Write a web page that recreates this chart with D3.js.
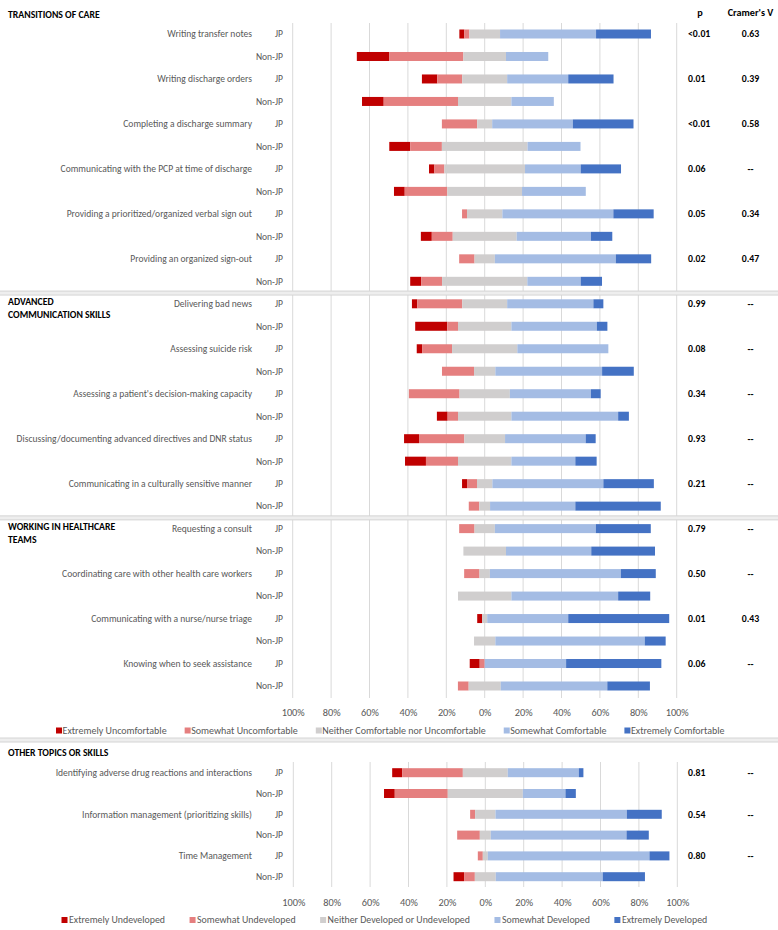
<!DOCTYPE html>
<html><head><meta charset="utf-8">
<script src="https://cdn.jsdelivr.net/npm/d3@7"></script>
<style>
body{margin:0;background:#fff}
svg{display:block}
text{font-family:Carlito, Lato, "Open Sans", sans-serif}
</style>
</head><body>
<svg id="c" width="778" height="930"></svg>
<script>
// ---------------- DATA ----------------
const groups = ["JP", "Non-JP"];

const sectionTitlesUpper = [["TRANSITIONS OF CARE"], ["ADVANCED", "COMMUNICATION SKILLS"], ["WORKING IN HEALTHCARE", "TEAMS"]];
const sectionSkillCounts = [6, 5, 4];

const skillsUpper = [
  "Writing transfer notes", "Writing discharge orders", "Completing a discharge summary",
  "Communicating with the PCP at time of discharge", "Providing a prioritized/organized verbal sign out",
  "Providing an organized sign-out",
  "Delivering bad news", "Assessing suicide risk", "Assessing a patient's decision-making capacity",
  "Discussing/documenting advanced directives and DNR status", "Communicating in a culturally sensitive manner",
  "Requesting a consult", "Coordinating care with other health care workers",
  "Communicating with a nurse/nurse triage", "Knowing when to seek assistance"
];
const pUpper = ["<0.01", "0.01", "<0.01", "0.06", "0.05", "0.02", "0.99", "0.08", "0.34", "0.93", "0.21", "0.79", "0.50", "0.01", "0.06"];
const vUpper = ["0.63", "0.39", "0.58", "--", "0.34", "0.47", "--", "--", "--", "--", "--", "--", "--", "0.43", "--"];

const levelsUpper = ["Extremely Uncomfortable", "Somewhat Uncomfortable", "Neither Comfortable nor Uncomfortable", "Somewhat Comfortable", "Extremely Comfortable"];
// rows alternate JP, Non-JP for each skill (percent)
const extremelyUncomfortable = [2.6, 16.8, 8.0, 11.3, 0, 10.9, 2.8, 5.6, 0, 5.7, 0, 5.7, 2.8, 16.7, 2.8, 0, 0, 5.6, 7.8, 10.9, 2.6, 0, 0, 0, 0, 0, 2.6, 0, 5.2, 0];
const somewhatUncomfortable = [2.6, 38.7, 13.0, 38.7, 18.4, 16.5, 5.2, 22.2, 2.6, 10.9, 8.0, 10.9, 23.4, 5.6, 15.6, 16.7, 26.4, 5.4, 23.6, 16.7, 5.2, 5.5, 8.0, 0, 8.0, 0, 0, 0, 2.6, 5.6];
const neitherComfortable = [16.0, 22.2, 23.4, 27.8, 7.8, 44.6, 42.0, 38.9, 18.4, 33.3, 10.6, 44.4, 23.4, 27.8, 34.0, 11.1, 26.2, 27.8, 21.2, 27.8, 8.0, 5.6, 10.6, 22.2, 5.4, 27.8, 2.6, 11.1, 0, 16.7];
const somewhatComfortable = [50.0, 22.0, 31.8, 22.1, 42.0, 27.6, 29.0, 33.2, 57.8, 38.7, 63.0, 27.8, 44.9, 44.5, 47.4, 55.6, 42.2, 55.6, 42.0, 33.3, 57.8, 44.4, 52.6, 44.4, 68.2, 55.6, 42.2, 77.8, 42.4, 55.5];
const extremelyComfortable = [28.6, 0, 23.6, 0, 31.6, 0, 21.0, 0, 21.0, 11.1, 18.4, 11.1, 5.2, 5.5, 0, 16.5, 5.1, 5.6, 5.2, 11.1, 26.3, 44.5, 28.6, 33.2, 18.2, 16.7, 52.6, 10.9, 49.6, 22.2];

const sectionTitlesLower = [["OTHER TOPICS OR SKILLS"]];
const sectionSkillCountsLower = [3];
const skillsLower = ["Identifying adverse drug reactions and interactions", "Information management (prioritizing skills)", "Time Management"];
const pLower = ["0.81", "0.54", "0.80"];
const vLower = ["--", "--", "--"];
const levelsLower = ["Extremely Undeveloped", "Somewhat Undeveloped", "Neither Developed or Undeveloped", "Somewhat Developed", "Extremely Developed"];
const extremelyUndeveloped = [5.2, 5.6, 0, 0, 0, 5.5];
const somewhatUndeveloped = [31.6, 27.6, 2.6, 11.8, 2.6, 5.6];
const neitherDeveloped = [23.4, 39.1, 10.6, 5.7, 2.6, 10.9];
const somewhatDeveloped = [37.0, 22.2, 68.4, 70.7, 84.2, 55.7];
const extremelyDeveloped = [2.4, 5.4, 18.2, 11.6, 10.4, 22.0];

const tickValues = [-100, -80, -60, -40, -20, 0, 20, 40, 60, 80, 100];

// ---------------- DRAWING ----------------
const svg = d3.select("#c");
const colors = ["#C00000", "#E57F7F", "#D0CECE", "#A4BCE4", "#4472C4"];
const labelGrey = "#595959";
const FS = 9.55;

// headers
svg.append("text").attr("x", 700).attr("y", 12).attr("dy", "0.35em").attr("text-anchor", "middle")
  .attr("font-size", 10.2).attr("font-weight", "bold").attr("fill", "#000").text("p");
svg.append("text").attr("x", 750.5).attr("y", 12).attr("dy", "0.35em").attr("text-anchor", "middle")
  .attr("font-size", 10.2).attr("font-weight", "bold").attr("fill", "#000").text("Cramer's V");

function separator(yMid) {
  svg.append("rect").attr("x", 0).attr("y", yMid - 2).attr("width", 778).attr("height", 4).attr("fill", "#eeeeee");
  svg.append("line").attr("x1", 0).attr("x2", 778).attr("y1", yMid - 2).attr("y2", yMid - 2).attr("stroke", "#d4d4d4").attr("stroke-width", 1);
  svg.append("line").attr("x1", 0).attr("x2", 778).attr("y1", yMid + 2).attr("y2", yMid + 2).attr("stroke", "#d4d4d4").attr("stroke-width", 1);
}

function drawPanel(cfg) {
  const n = cfg.series[0].length;
  const x = d3.scaleLinear().domain([-100, 100]).range(cfg.xRange);
  const y = d3.scalePoint().domain(d3.range(n)).range(cfg.yRange);
  const g = svg.append("g");

  // grid
  g.append("g").selectAll("line").data(tickValues).join("line")
    .attr("x1", d => x(d)).attr("x2", d => x(d))
    .attr("y1", cfg.gridTop).attr("y2", cfg.gridBottom)
    .attr("stroke", "#d9d9d9").attr("stroke-width", 1);

  // separators between sections and section titles
  let acc = 0;
  cfg.sectionCounts.forEach((c, si) => {
    const firstRow = acc * 2;
    if (si > 0) separator((y(firstRow - 1) + y(firstRow)) / 2 + 0.5);
    const lines = cfg.sectionTitles[si];
    const ty = y(firstRow) + (si === 0 ? cfg.firstTitleOffset : -2);
    lines.forEach((t, li) => {
      g.append("text").attr("x", 8).attr("y", ty + li * 12.5).attr("dy", "0.35em")
        .attr("font-size", 9.75).attr("font-weight", "bold").attr("fill", "#000").text(t);
    });
    acc += c;
  });

  // rows
  const rows = d3.range(n).map(i => {
    const vals = cfg.series.map(s => s[i]);
    let start = -(vals[0] + vals[1] + vals[2] / 2);
    const segs = vals.map((v, k) => { const s = { k, x0: start, x1: start + v }; start += v; return s; });
    return { i, skill: i % 2 === 0 ? cfg.skills[i / 2] : null, group: groups[i % 2], segs };
  });

  const rowG = g.append("g").selectAll("g").data(rows).join("g");
  rowG.selectAll("rect").data(d => d.segs.filter(s => s.x1 - s.x0 > 0).map(s => ({ ...s, i: d.i }))).join("rect")
    .attr("x", s => x(s.x0)).attr("width", s => x(s.x1) - x(s.x0))
    .attr("y", s => y(s.i) - 4.5).attr("height", 9)
    .attr("fill", s => colors[s.k]);

  // labels
  rowG.filter(d => d.skill).append("text")
    .attr("x", 252).attr("y", d => y(d.i)).attr("dy", "0.35em").attr("text-anchor", "end")
    .attr("font-size", FS).attr("fill", labelGrey).text(d => d.skill);
  rowG.append("text")
    .attr("x", 283).attr("y", d => y(d.i)).attr("dy", "0.35em").attr("text-anchor", "end")
    .attr("font-size", FS).attr("fill", labelGrey).text(d => d.group);
  rowG.filter(d => d.skill).append("text")
    .attr("x", 688).attr("y", d => y(d.i)).attr("dy", "0.35em")
    .attr("font-size", 9.75).attr("font-weight", "bold").attr("fill", "#000").text(d => cfg.p[d.i / 2]);
  rowG.filter(d => d.skill).append("text")
    .attr("x", 750.5).attr("y", d => y(d.i)).attr("dy", "0.35em").attr("text-anchor", "middle")
    .attr("font-size", 9.75).attr("font-weight", "bold").attr("fill", "#000").text(d => cfg.v[d.i / 2]);

  // axis
  const ax = g.append("g").attr("transform", `translate(0,${cfg.axisY})`)
    .call(d3.axisBottom(x).tickValues(tickValues).tickFormat(d => Math.abs(d) + "%").tickSize(0).tickPadding(0));
  ax.select(".domain").remove();
  ax.selectAll("text").attr("font-size", 10.3).attr("fill", labelGrey).attr("dy", "0.35em")
    .style("font-family", 'Carlito, Lato, "Open Sans", sans-serif');

  // legend
  let lx = cfg.legendX;
  cfg.levels.forEach((lab, k) => {
    svg.append("rect").attr("x", lx).attr("y", cfg.legendY - 3).attr("width", 6).attr("height", 6).attr("fill", colors[k]);
    const t = svg.append("text").attr("x", lx + cfg.legendTextOff).attr("y", cfg.legendY).attr("dy", "0.35em")
      .attr("font-size", cfg.legendFS).attr("fill", labelGrey).text(lab);
    lx += cfg.legendTextOff + t.node().getComputedTextLength() + cfg.legendGap;
  });
}

drawPanel({
  series: [extremelyUncomfortable, somewhatUncomfortable, neitherComfortable, somewhatComfortable, extremelyComfortable],
  skills: skillsUpper, p: pUpper, v: vUpper, levels: levelsUpper,
  sectionTitles: sectionTitlesUpper, sectionCounts: sectionSkillCounts,
  xRange: [292.7, 676.7], yRange: [34, 686], gridTop: 23, gridBottom: 698,
  firstTitleOffset: -19, axisY: 712.5, legendX: 56, legendY: 730.5, legendTextOff: 6.5, legendGap: 18, legendFS: 10
});

separator(740);

drawPanel({
  series: [extremelyUndeveloped, somewhatUndeveloped, neitherDeveloped, somewhatDeveloped, extremelyDeveloped],
  skills: skillsLower, p: pLower, v: vLower, levels: levelsLower,
  sectionTitles: sectionTitlesLower, sectionCounts: sectionSkillCountsLower,
  xRange: [293.3, 677.3], yRange: [772.7, 876.7], gridTop: 762, gridBottom: 887,
  firstTitleOffset: -20, axisY: 902.5, legendX: 61.5, legendY: 920, legendTextOff: 7.5, legendGap: 24.5, legendFS: 9.9
});
</script>
</body></html>
